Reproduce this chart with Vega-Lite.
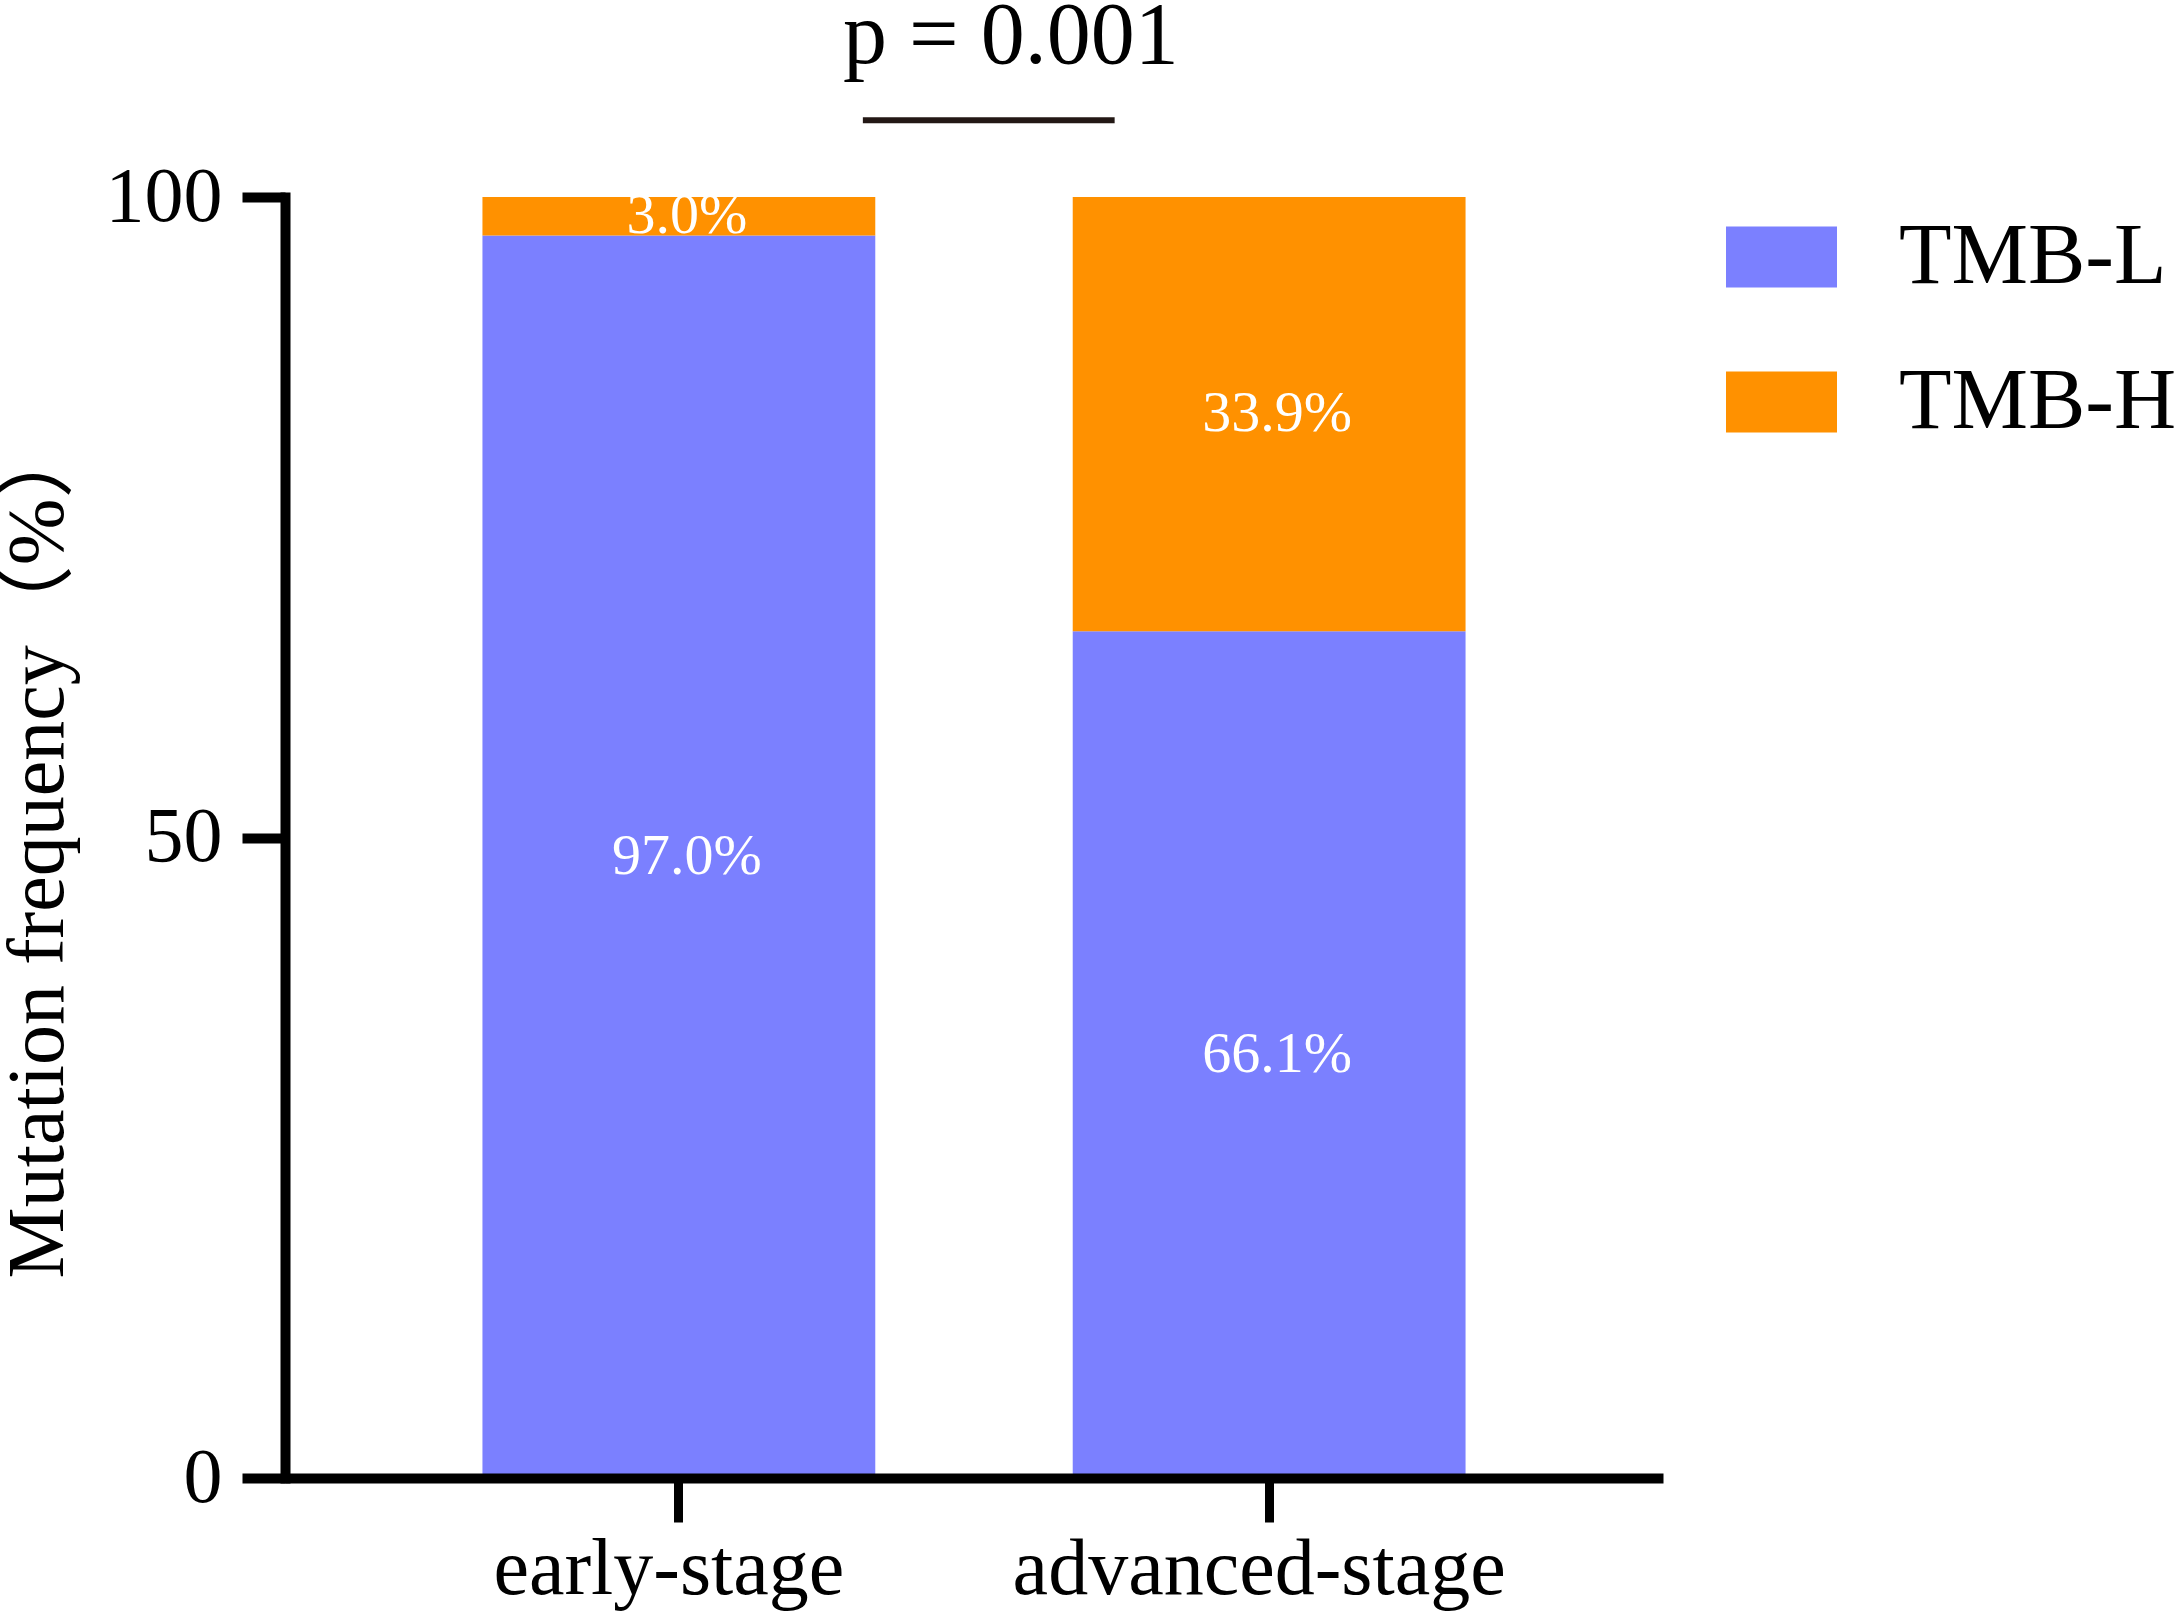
{
  "$schema": "https://vega.github.io/schema/vega-lite/v6.json",
  "width": 1378,
  "height": 1281,
  "autosize": {"type": "none"},
  "padding": {"left": 285, "top": 197, "right": 512, "bottom": 141},
  "background": "white",
  "config": {
    "view": {"stroke": null},
    "font": "Liberation Serif"
  },
  "datasets": {
    "shares": [
      {"stage": "early-stage", "group": "TMB-L", "value": 97.0, "label": "97.0%"},
      {"stage": "early-stage", "group": "TMB-H", "value": 3.0, "label": "3.0%"},
      {"stage": "advanced-stage", "group": "TMB-L", "value": 66.1, "label": "66.1%"},
      {"stage": "advanced-stage", "group": "TMB-H", "value": 33.9, "label": "33.9%"}
    ],
    "tests": [
      {"from": "early-stage", "to": "advanced-stage", "p": "p = 0.001"}
    ]
  },
  "layer": [
    {
      "data": {"name": "shares"},
      "mark": {"type": "bar"},
      "encoding": {
        "x": {
          "field": "stage",
          "type": "nominal",
          "scale": {"domain": ["early-stage", "advanced-stage"], "paddingInner": 0.3345, "paddingOuter": 0.3345},
          "axis": {
            "title": null,
            "labelAngle": 0,
            "labelFont": "Liberation Serif",
            "labelFontSize": 80,
            "labelColor": "black",
            "labelBaseline": "alphabetic",
            "labelPadding": 71,
            "labelOffset": -10,
            "labelLimit": 0,
            "tickSize": 44,
            "tickWidth": 9,
            "tickColor": "black",
            "domainColor": "black",
            "domainWidth": 10,
            "domainCap": "butt",
            "zindex": 1
          }
        },
        "y": {
          "field": "value",
          "type": "quantitative",
          "stack": "zero",
          "scale": {"domain": [0, 100], "nice": false},
          "axis": {
            "values": [0, 50, 100],
            "grid": false,
            "title": "Mutation frequency（%）",
            "titleFont": "Liberation Serif, Noto Sans CJK SC",
            "titleFontSize": 80,
            "titleFontWeight": "normal",
            "titleColor": "black",
            "titleAngle": 270,
            "titleBaseline": "alphabetic",
            "titleAlign": "center",
            "titleX": -223,
            "titleY": 651,
            "labelFont": "Liberation Serif",
            "labelFontSize": 78,
            "labelColor": "black",
            "labelPadding": 20,
            "tickSize": 43,
            "tickWidth": 10,
            "tickColor": "black",
            "domainColor": "black",
            "domainWidth": 10,
            "domainCap": "square",
            "zindex": 1
          }
        },
        "color": {
          "field": "group",
          "type": "nominal",
          "scale": {"domain": ["TMB-L", "TMB-H"], "range": ["#7B80FF", "#FF9100"]},
          "legend": {
            "title": null,
            "orient": "none",
            "legendX": 1441,
            "legendY": 4.5,
            "padding": 0,
            "symbolType": "M-1,-0.55H1V0.55H-1Z",
            "symbolSize": 12321,
            "symbolStrokeWidth": 0,
            "symbolOpacity": 1,
            "labelFont": "Liberation Serif",
            "labelFontSize": 86,
            "labelColor": "black",
            "labelOffset": 62,
            "labelLimit": 0,
            "rowPadding": 46
          }
        },
        "order": {"field": "group", "sort": "descending"}
      }
    },
    {
      "data": {"name": "shares"},
      "mark": {"type": "text", "color": "white", "font": "Liberation Serif", "fontSize": 58, "baseline": "middle", "align": "center", "dx": 8},
      "encoding": {
        "x": {"field": "stage", "type": "nominal"},
        "y": {"field": "value", "type": "quantitative", "stack": "zero", "bandPosition": 0.5},
        "detail": {"field": "group"},
        "order": {"field": "group", "sort": "descending"},
        "text": {"field": "label"}
      }
    },
    {
      "data": {"name": "tests"},
      "mark": {"type": "rule", "color": "#231815", "strokeWidth": 6, "xOffset": 184, "x2Offset": -154.5},
      "encoding": {
        "x": {"field": "from", "type": "nominal"},
        "x2": {"field": "to"},
        "y": {"datum": 106}
      }
    },
    {
      "data": {"name": "tests"},
      "mark": {"type": "text", "color": "black", "font": "Liberation Serif", "fontSize": 88, "baseline": "alphabetic", "align": "center", "dx": 332},
      "encoding": {
        "x": {"field": "from", "type": "nominal"},
        "y": {"datum": 110.46},
        "text": {"field": "p"}
      }
    }
  ]
}
